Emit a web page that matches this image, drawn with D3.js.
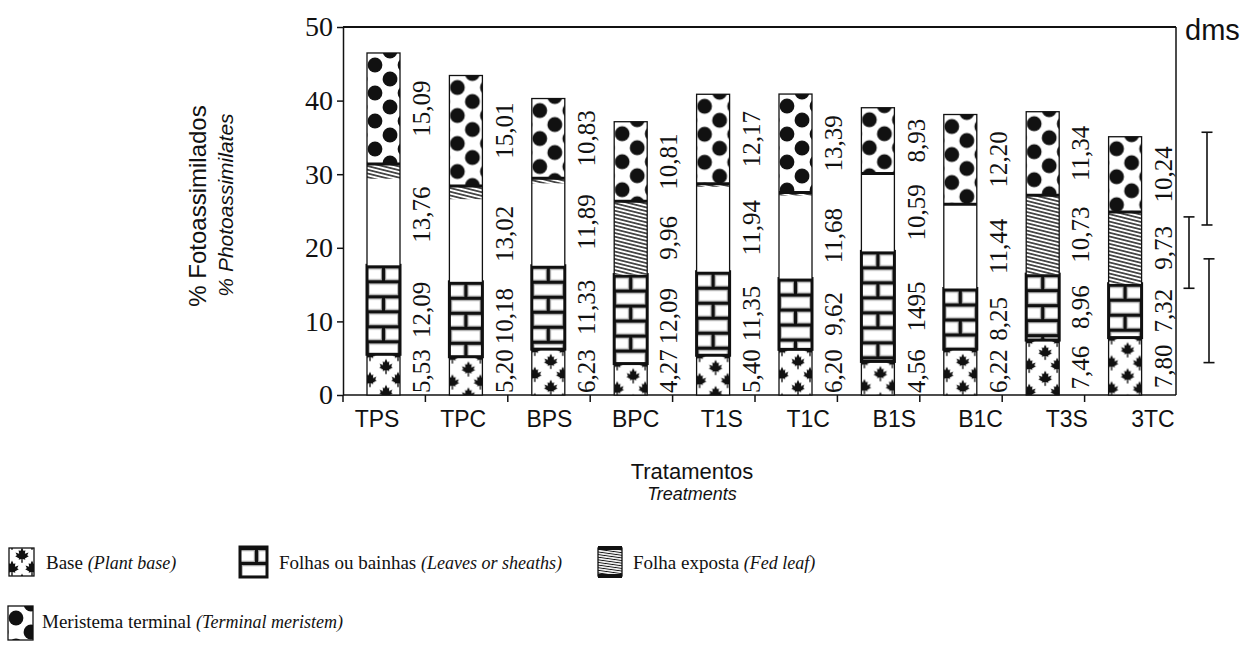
<!DOCTYPE html>
<html>
<head>
<meta charset="utf-8">
<script src="https://cdn.jsdelivr.net/npm/d3@7"></script>
<style>
  body { margin: 0; background: #fff; }
  svg { display: block; }
  .serif { font-family: "Liberation Serif", "Times New Roman", serif; }
  .sans { font-family: "Liberation Sans", Arial, sans-serif; }
</style>
</head>
<body>
<div id="chart"></div>
<script>
const treatments = ['TPS', 'TPC', 'BPS', 'BPC', 'T1S', 'T1C', 'B1S', 'B1C', 'T3S', '3TC'];
const base = [5.53, 5.20, 6.23, 4.27, 5.40, 6.20, 4.56, 6.22, 7.46, 7.80];
const leaves = [12.09, 10.18, 11.33, 12.09, 11.35, 9.62, 14.95, 8.25, 8.96, 7.32];
const fedLeaf = [13.76, 13.02, 11.89, 9.96, 11.94, 11.68, 10.59, 11.44, 10.73, 9.73];
const meristem = [15.09, 15.01, 10.83, 10.81, 12.17, 13.39, 8.93, 12.20, 11.34, 10.24];
// part of the "folha exposta" segment that shows the hatching (from its top)
const fedLeafHatched = [2.0, 1.8, 0.7, 9.96, 0.4, 0.4, 0, 0, 10.73, 9.73];
const yTicks = [0, 10, 20, 30, 40, 50];
const dmsRanges = [[23.1, 35.7], [14.5, 24.2], [4.4, 18.5]];
const labelOverrides = { 'B1S:leaves': '1495' };

const keys = ['base', 'leaves', 'fedLeaf', 'meristem'];
const legendItems = [
  { key: 'base', name: 'Base', en: '(Plant base)' },
  { key: 'leaves', name: 'Folhas ou bainhas', en: '(Leaves or sheaths)' },
  { key: 'fedLeaf', name: 'Folha exposta', en: '(Fed leaf)' },
  { key: 'meristem', name: 'Meristema terminal', en: '(Terminal meristem)' }
];

const rows = treatments.map((t, i) => ({
  treatment: t,
  base: base[i],
  leaves: leaves[i],
  fedLeaf: fedLeaf[i],
  meristem: meristem[i]
}));
const series = d3.stack().keys(keys)(rows);

const width = 1246;
const height = 645;
const plot = { left: 343, right: 1176, top: 27, bottom: 395 };
const barW = 33;
const barOff = 24;

const y = d3.scaleLinear().domain([0, 50]).range([plot.bottom, plot.top]);
const x = d3.scaleBand().domain(treatments).range([plot.left, plot.left + 824]);
const xLabel = d3.scalePoint().domain(treatments).range([377, 1153]);

const svg = d3
  .select('#chart')
  .append('svg')
  .attr('width', width)
  .attr('height', height);

const defs = svg.append('defs');

const addPattern = (id, w, h) => {
  const p = defs
    .append('pattern')
    .attr('id', id)
    .attr('patternUnits', 'userSpaceOnUse')
    .attr('width', w)
    .attr('height', h);
  p.append('rect').attr('width', w).attr('height', h).attr('fill', '#fff');
  return p;
};

// maple leaves
const leafPath =
  'M0,-6 L1.3,-3.2 L2.7,-3.9 L2.3,-1 L5.2,-2.1 L4.1,0.2 L5.4,1 L2.3,2.7 L2.7,3.7 L0.5,3.2 L0.6,6.2 L-0.6,6.2 L-0.5,3.2 L-2.7,3.7 L-2.3,2.7 L-5.4,1 L-4.1,0.2 L-5.2,-2.1 L-2.3,-1 L-2.7,-3.9 L-1.3,-3.2 Z';
const leafPattern = (id, spots) => {
  const p = addPattern(id, 28, 26);
  spots.forEach(([cx, cy]) => {
    [-28, 0, 28].forEach(dx =>
      [-26, 0, 26].forEach(dy =>
        p.append('path')
          .attr('d', leafPath)
          .attr('transform', `translate(${cx + dx},${cy + dy}) scale(1.25)`)
          .attr('fill', '#111')
      )
    );
  });
};
leafPattern('pBase', [[19, 12], [3, 25]]);
leafPattern('pBaseLegend', [[13, 7], [3, 20], [23, 20]]);

// bricks
const pBrick = addPattern('pBrick', 33, 30);
const brickLines = [
  [0, 1.5, 33, 1.5],
  [0, 16.5, 33, 16.5],
  [0, 31.5, 33, 31.5],
  [16.5, 1.5, 16.5, 16.5],
  [0, 16.5, 0, 31.5],
  [33, 16.5, 33, 31.5]
];
[['#a8a8a8', 5.4], ['#111', 3.2]].forEach(([c, sw]) =>
  brickLines.forEach(l =>
    pBrick
      .append('line')
      .attr('x1', l[0])
      .attr('y1', l[1])
      .attr('x2', l[2])
      .attr('y2', l[3])
      .attr('stroke', c)
      .attr('stroke-width', sw)
  )
);

// hatching
const pHatch = addPattern('pHatch', 8, 3.6).attr('patternTransform', 'rotate(14)');
pHatch
  .append('line')
  .attr('x1', 0)
  .attr('x2', 8)
  .attr('y1', 1.8)
  .attr('y2', 1.8)
  .attr('stroke', '#111')
  .attr('stroke-width', 1.4);

const pHatchDense = addPattern('pHatchDense', 6, 2.6).attr('patternTransform', 'rotate(8)');
pHatchDense
  .append('line')
  .attr('x1', 0)
  .attr('x2', 6)
  .attr('y1', 1.3)
  .attr('y2', 1.3)
  .attr('stroke', '#111')
  .attr('stroke-width', 1);

// dots
const pDots = addPattern('pDots', 30, 28);
[[8, 12], [23, 26]].forEach(([cx, cy]) => {
  [-30, 0, 30].forEach(dx =>
    [-28, 0, 28].forEach(dy =>
      pDots
        .append('circle')
        .attr('cx', cx + dx)
        .attr('cy', cy + dy)
        .attr('r', 7.4)
        .attr('fill', '#111')
    )
  );
});

const fills = {
  base: 'url(#pBase)',
  leaves: 'url(#pBrick)',
  fedLeaf: '#fff',
  meristem: 'url(#pDots)'
};

const fmt = v => v.toFixed(2).replace('.', ',');

// frame and axes
const frame = svg.append('g').attr('stroke', '#111').attr('fill', 'none');
frame
  .append('line')
  .attr('x1', plot.left)
  .attr('x2', plot.right)
  .attr('y1', plot.top)
  .attr('y2', plot.top)
  .attr('stroke-width', 2);
frame
  .append('line')
  .attr('x1', plot.right)
  .attr('x2', plot.right)
  .attr('y1', plot.top)
  .attr('y2', plot.bottom)
  .attr('stroke-width', 1.5);
frame
  .append('line')
  .attr('x1', plot.left)
  .attr('x2', plot.right)
  .attr('y1', plot.bottom)
  .attr('y2', plot.bottom)
  .attr('stroke-width', 1.5);

const gy = svg
  .append('g')
  .attr('transform', `translate(${plot.left},0)`)
  .call(d3.axisLeft(y).tickValues(yTicks).tickSize(6).tickSizeOuter(0).tickPadding(4));
gy.select('.domain').attr('stroke', '#111').attr('stroke-width', 1.5);
gy.selectAll('.tick line').attr('stroke', '#111').attr('stroke-width', 1.5);
gy.selectAll('.tick text')
  .attr('class', 'serif')
  .style('font-size', '28px')
  .attr('fill', '#111');

// tick marks between bars
svg
  .append('g')
  .selectAll('line')
  .data(treatments)
  .join('line')
  .attr('x1', d => x(d))
  .attr('x2', d => x(d))
  .attr('y1', plot.bottom)
  .attr('y2', plot.bottom + 7)
  .attr('stroke', '#111')
  .attr('stroke-width', 1.5);

svg
  .append('g')
  .selectAll('text')
  .data(treatments)
  .join('text')
  .attr('class', 'sans')
  .attr('x', d => xLabel(d))
  .attr('y', 427)
  .attr('text-anchor', 'middle')
  .style('font-size', '23px')
  .attr('fill', '#111')
  .text(d => d);

// bars
const bars = svg
  .append('g')
  .selectAll('g.bar')
  .data(treatments)
  .join('g')
  .attr('class', 'bar')
  .attr('transform', d => `translate(${x(d) + barOff},0)`);

bars.each(function (t, i) {
  const g = d3.select(this);
  const segs = series.map(s => ({ key: s.key, d0: s[i][0], d1: s[i][1] }));

  segs.forEach(s => {
    const top = y(s.d1);
    const h = y(s.d0) - y(s.d1);
    const sg = g.append('g').attr('transform', `translate(0,${top})`);
    sg.append('rect')
      .attr('width', barW)
      .attr('height', h)
      .attr('fill', fills[s.key]);

    if (s.key === 'fedLeaf') {
      const hatch = Math.min(fedLeafHatched[i], s.d1 - s.d0);
      if (hatch > 0) {
        sg.append('rect')
          .attr('width', barW)
          .attr('height', y(s.d1 - hatch) - top)
          .attr('fill', 'url(#pHatch)');
      }
    }
    if (s.key === 'leaves') {
      sg.append('rect')
        .attr('width', barW)
        .attr('height', h)
        .attr('fill', 'none')
        .attr('stroke', '#111')
        .attr('stroke-width', 3);
    }
    if (s.key === 'meristem') {
      sg.append('line')
        .attr('x1', 0)
        .attr('x2', barW)
        .attr('y1', h)
        .attr('y2', h)
        .attr('stroke', '#111')
        .attr('stroke-width', 3);
    }
  });

  const total = segs[segs.length - 1].d1;
  g.append('rect')
    .attr('y', y(total))
    .attr('width', barW)
    .attr('height', y(0) - y(total))
    .attr('fill', 'none')
    .attr('stroke', '#111')
    .attr('stroke-width', 1.3);

  // value labels, stacked upwards without overlapping
  let limit = plot.bottom - 2;
  segs.forEach(s => {
    const txt = labelOverrides[`${t}:${s.key}`] || fmt(s.d1 - s.d0);
    const el = g
      .append('text')
      .attr('class', 'serif')
      .style('font-size', '25px')
      .attr('fill', '#111')
      .attr('text-anchor', 'middle')
      .attr('dy', '0.35em')
      .text(txt);
    const len = el.node().getComputedTextLength();
    let cy = (y(s.d0) + y(s.d1)) / 2;
    if (cy + len / 2 > limit) cy = limit - len / 2;
    limit = cy - len / 2 - 5;
    el.attr('transform', `translate(${barW / 2 + 38},${cy}) rotate(-90)`);
  });
});

// dms bars
const dmsX = [plot.right + 31, plot.right + 13, plot.right + 33];
const dms = svg
  .append('g')
  .selectAll('g')
  .data(dmsRanges)
  .join('g')
  .attr('stroke', '#111')
  .attr('stroke-width', 1.6);
dms
  .append('line')
  .attr('x1', (d, i) => dmsX[i])
  .attr('x2', (d, i) => dmsX[i])
  .attr('y1', d => y(d[1]))
  .attr('y2', d => y(d[0]));
[0, 1].forEach(j =>
  dms
    .append('line')
    .attr('x1', (d, i) => dmsX[i] - 5.5)
    .attr('x2', (d, i) => dmsX[i] + 5.5)
    .attr('y1', d => y(d[j]))
    .attr('y2', d => y(d[j]))
);

svg
  .append('text')
  .attr('class', 'sans')
  .attr('x', 1185)
  .attr('y', 40)
  .style('font-size', '29px')
  .attr('fill', '#111')
  .text('dms');

// axis titles
svg
  .append('text')
  .attr('class', 'sans')
  .attr('transform', 'translate(206,206) rotate(-90)')
  .attr('text-anchor', 'middle')
  .style('font-size', '24px')
  .attr('fill', '#111')
  .text('% Fotoassimilados');
svg
  .append('text')
  .attr('class', 'sans')
  .attr('transform', 'translate(233,205) rotate(-90)')
  .attr('text-anchor', 'middle')
  .style('font-size', '21px')
  .style('font-style', 'italic')
  .attr('fill', '#111')
  .text('% Photoassimilates');

svg
  .append('text')
  .attr('class', 'sans')
  .attr('x', 692)
  .attr('y', 479)
  .attr('text-anchor', 'middle')
  .style('font-size', '22px')
  .attr('fill', '#111')
  .text('Tratamentos');
svg
  .append('text')
  .attr('class', 'sans')
  .attr('x', 692)
  .attr('y', 500)
  .attr('text-anchor', 'middle')
  .style('font-size', '18px')
  .style('font-style', 'italic')
  .attr('fill', '#111')
  .text('Treatments');

// legend
const legendPos = [
  { x: 9, y: 548, w: 25, h: 28, tx: 46, ty: 569 },
  { x: 240, y: 547, w: 27, h: 30, tx: 279, ty: 569 },
  { x: 598, y: 548, w: 24, h: 28, tx: 633, ty: 569 },
  { x: 8, y: 606, w: 25, h: 34, tx: 42, ty: 628 }
];
const legendFills = Object.assign({}, fills, {
  base: 'url(#pBaseLegend)',
  fedLeaf: 'url(#pHatchDense)'
});

const legend = svg
  .append('g')
  .selectAll('g')
  .data(legendItems)
  .join('g')
  .attr('transform', (d, i) => `translate(${legendPos[i].x},${legendPos[i].y})`);

legend
  .append('rect')
  .attr('width', (d, i) => legendPos[i].w)
  .attr('height', (d, i) => legendPos[i].h)
  .attr('fill', d => legendFills[d.key])
  .attr('stroke', '#111')
  .attr('stroke-width', d => (d.key === 'leaves' ? 3 : 1.3));

legend
  .filter(d => d.key === 'fedLeaf')
  .selectAll('line')
  .data([0, legendPos[2].h])
  .join('line')
  .attr('x1', 0)
  .attr('x2', legendPos[2].w)
  .attr('y1', d => d)
  .attr('y2', d => d)
  .attr('stroke', '#111')
  .attr('stroke-width', 4);

const legendText = legend
  .append('text')
  .attr('class', 'serif')
  .attr('x', (d, i) => legendPos[i].tx - legendPos[i].x)
  .attr('y', (d, i) => legendPos[i].ty - legendPos[i].y)
  .style('font-size', '19px')
  .attr('fill', '#111');
legendText.append('tspan').text(d => d.name + ' ');
legendText
  .append('tspan')
  .style('font-style', 'italic')
  .style('font-size', '18px')
  .text(d => d.en);
</script>
</body>
</html>
